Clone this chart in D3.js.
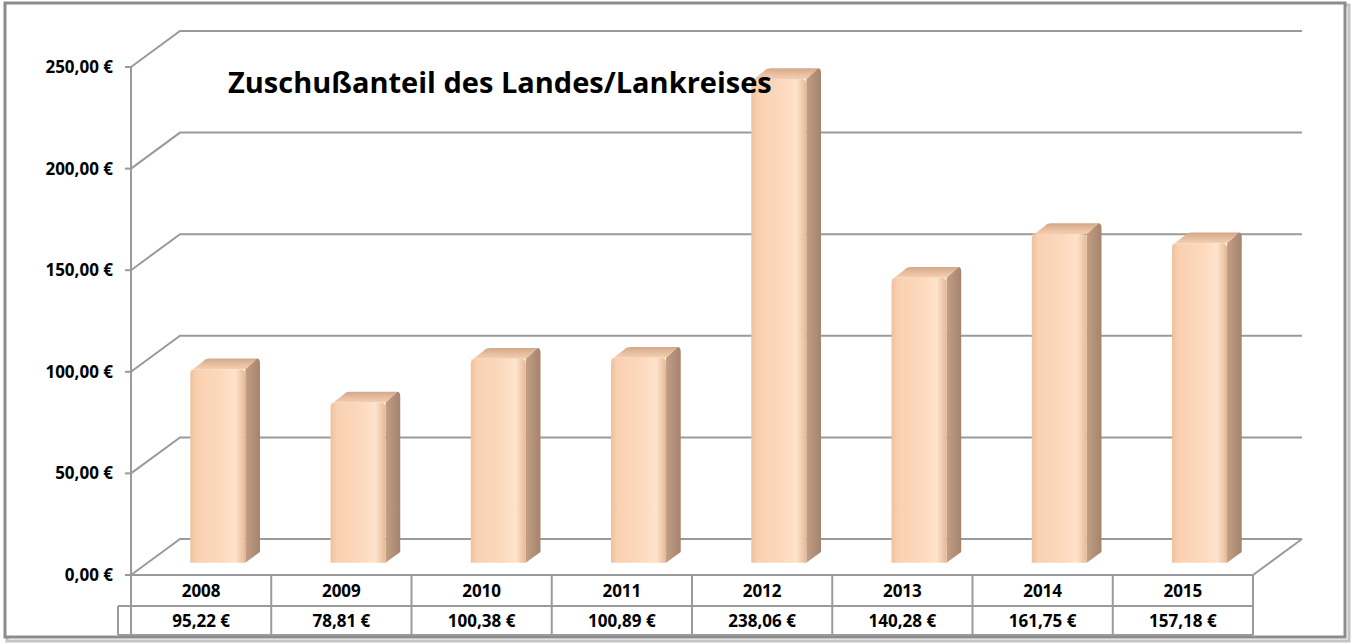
<!DOCTYPE html>
<html>
<head>
<meta charset="utf-8">
<script src="https://cdn.jsdelivr.net/npm/d3@7"></script>
<style>
  body { margin: 0; background: #fff; }
  svg text { font-family: "Open Sans", Lato, sans-serif; font-weight: bold; fill: #000; }
</style>
</head>
<body>
<svg id="chart"></svg>
<script>
// data
const years = ['2008', '2009', '2010', '2011', '2012', '2013', '2014', '2015'];
const values = [95.22, 78.81, 100.38, 100.89, 238.06, 140.28, 161.75, 157.18];
const yTicks = [0, 50, 100, 150, 200, 250];
const title = 'Zuschußanteil des Landes/Lankreises';

const W = 1354, H = 644;
const DX = 49, DY = -36; // depth of the 3d box

const de = d3.formatLocale({decimal: ',', thousands: '.', grouping: [3], currency: ['', ' €']});
const euro = de.format('$,.2f');

const svg = d3.select('#chart').attr('width', W).attr('height', H);

const x = d3.scaleBand().domain(years).range([131, 1253]);
const y = d3.scaleLinear().domain([0, 250]).range([575, 67]);

function proj(px, py, z) { return [px + z * DX, py + z * DY]; }

// gradients
const defs = svg.append('defs');
function grad(id, stops, x2, y2) {
  const g = defs.append('linearGradient').attr('id', id)
    .attr('x1', 0).attr('y1', 0).attr('x2', x2).attr('y2', y2);
  stops.forEach(s => g.append('stop').attr('offset', s[0]).attr('stop-color', s[1]));
}
grad('front', [[0, '#efc19d'], [0.12, '#f9d1b1'], [0.55, '#fcd9bd'], [0.82, '#fee3cc'], [1, '#e6b996']], 1, 0);
grad('side', [[0, '#c29e84'], [1, '#a5836d']], 1, 0);
grad('top', [[0, '#d3a888'], [0.6, '#edc5a6'], [1, '#f8d3b6']], 0, 1);

// frame
svg.append('rect').attr('x', 7).attr('y', 5).attr('width', 1342).attr('height', 636)
  .attr('fill', 'none').attr('stroke', '#c4c4c4').attr('stroke-width', 3);
svg.append('rect').attr('x', 5).attr('y', 3).attr('width', 1340).attr('height', 634)
  .attr('fill', '#fff').attr('stroke', '#8c8c8c').attr('stroke-width', 3);

// gridlines: side wall + back wall
const x0 = x.range()[0], x1 = x.range()[1];
svg.append('g').selectAll('path').data(yTicks).join('path')
  .attr('d', t => 'M' + proj(x0, y(t), 0) + 'L' + proj(x0, y(t), 1) + 'L' + proj(x1, y(t), 1))
  .attr('fill', 'none').attr('stroke', '#9a9a9a').attr('stroke-width', 2);

// floor right edge
svg.append('path')
  .attr('d', 'M' + proj(x1, y(0), 0) + 'L' + proj(x1, y(0), 1))
  .attr('fill', 'none').attr('stroke', '#9a9a9a').attr('stroke-width', 2);

// y axis line and ticks
svg.append('line').attr('x1', x0).attr('x2', x0).attr('y1', y(250)).attr('y2', y(0))
  .attr('stroke', '#9a9a9a').attr('stroke-width', 2);
svg.append('g').selectAll('line').data(yTicks).join('line')
  .attr('x1', x0 - 6).attr('x2', x0).attr('y1', d => y(d)).attr('y2', d => y(d))
  .attr('stroke', '#9a9a9a').attr('stroke-width', 2);
svg.append('g').selectAll('text').data(yTicks).join('text')
  .attr('x', 113).attr('y', d => y(d) + 6)
  .attr('text-anchor', 'end').style('font-size', '17px')
  .text(d => euro(d));

// bars
const zf = 0.34, zb = 0.64, half = 27.5, r = 5;
const bars = svg.append('g').selectAll('g').data(years.map((k, i) => ({k, v: values[i]}))).join('g');
bars.each(function(d) {
  const g = d3.select(this);
  const cx = x(d.k) + x.bandwidth() / 2;
  const [xl, yb] = proj(cx - half, y(0), zf);
  const [xr, yt] = proj(cx + half, y(d.v), zf);
  const ox = (zb - zf) * DX, oy = (zb - zf) * DY;
  // side
  g.append('path')
    .attr('d', `M${xr},${yb}L${xr + ox},${yb + oy}L${xr + ox},${yt + oy + r}Q${xr + ox},${yt + oy} ${xr + ox - 3},${yt + oy}L${xr},${yt}Z`)
    .attr('fill', 'url(#side)');
  // top
  g.append('path')
    .attr('d', `M${xl},${yt + 2}Q${xl},${yt} ${xl + 3},${yt}L${xr},${yt}L${xr + ox - 3},${yt + oy}L${xl + ox + r},${yt + oy}Q${xl + ox},${yt + oy} ${xl + ox - 2},${yt + oy + 3}Z`)
    .attr('fill', 'url(#top)');
  // front
  g.append('path')
    .attr('d', `M${xl},${yb}L${xl},${yt + r}Q${xl},${yt} ${xl + r},${yt}L${xr - r},${yt}Q${xr},${yt} ${xr},${yt + r}L${xr},${yb}Z`)
    .attr('fill', 'url(#front)');
});

// data table
const rowTop = 575, rowMid = 606, rowBot = 635, keyX = 118;
const tbl = svg.append('g').attr('stroke', '#9a9a9a').attr('stroke-width', 2).attr('fill', 'none');
tbl.append('line').attr('x1', x0).attr('x2', x1).attr('y1', rowTop).attr('y2', rowTop);
tbl.append('line').attr('x1', keyX).attr('x2', x1).attr('y1', rowMid).attr('y2', rowMid);
tbl.append('line').attr('x1', keyX).attr('x2', x1).attr('y1', rowBot).attr('y2', rowBot);
tbl.append('line').attr('x1', keyX).attr('x2', keyX).attr('y1', rowMid).attr('y2', rowBot);
tbl.selectAll('.sep').data(years.map(k => x(k)).concat([x1])).join('line')
  .attr('x1', d => d).attr('x2', d => d).attr('y1', rowTop).attr('y2', rowBot);

svg.append('g').selectAll('text').data(years).join('text')
  .attr('x', d => x(d) + x.bandwidth() / 2).attr('y', 597)
  .attr('text-anchor', 'middle').style('font-size', '17px')
  .text(d => d);
svg.append('g').selectAll('text').data(values).join('text')
  .attr('x', (d, i) => x(years[i]) + x.bandwidth() / 2).attr('y', 627)
  .attr('text-anchor', 'middle').style('font-size', '17px')
  .text(d => euro(d));

// title
svg.append('text').attr('x', 228).attr('y', 93).style('font-size', '29px').text(title);
</script>
</body>
</html>
